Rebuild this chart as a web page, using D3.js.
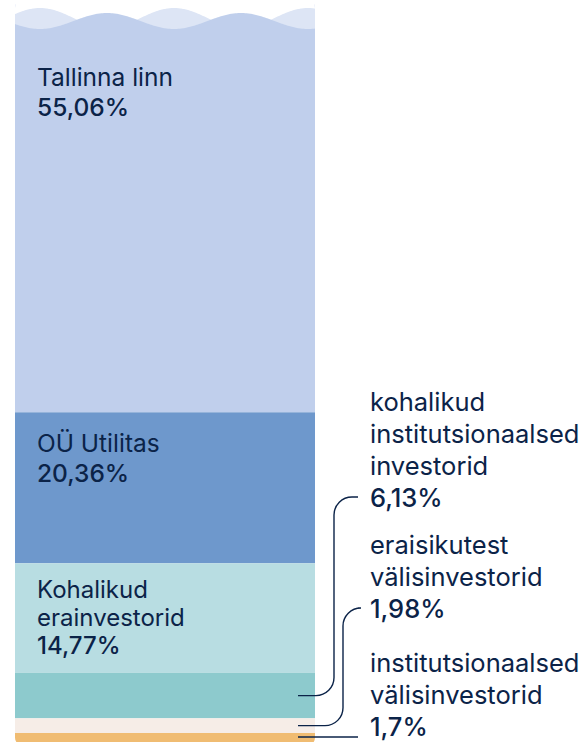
<!DOCTYPE html>
<html>
<head>
<meta charset="utf-8">
<script src="https://cdn.jsdelivr.net/npm/d3@7"></script>
<style>
  html, body { margin: 0; padding: 0; background: #fff; }
  svg { display: block; font-family: Inter, "Noto Sans", sans-serif; }
</style>
</head>
<body>
<div class="chart"></div>
<script>
// shareholders, top to bottom
const categories = ["Tallinna linn", "OÜ Utilitas", "Kohalikud erainvestorid",
  "kohalikud institutsionaalsed investorid", "eraisikutest välisinvestorid",
  "institutsionaalsed välisinvestorid"];
const shares = [55.06, 20.36, 14.77, 6.13, 1.98, 1.7];
const shareLabels = ["55,06%", "20,36%", "14,77%", "6,13%", "1,98%", "1,7%"];
const labelLines = [["Tallinna linn"], ["OÜ Utilitas"], ["Kohalikud", "erainvestorid"],
  ["kohalikud", "institutsionaalsed", "investorid"], ["eraisikutest", "välisinvestorid"],
  ["institutsionaalsed", "välisinvestorid"]];
const colors = ["#c0cfec", "#6e98cc", "#b8dde2", "#8dcacd", "#f6ede7", "#f0bc72"];

let width = 587, height = 742;
let ink = "#0b2348";

let svg = d3.select(".chart")
  .append("svg")
  .attr("width", width)
  .attr("height", height);

// stacked from top
let stacked = [];
let acc = 0;
shares.forEach((v, i) => {
  stacked.push({ i, name: categories[i], v, y0: acc, y1: acc + v });
  acc += v;
});

let x0 = 15, x1 = 315;
let y = d3.scaleLinear().domain([0, 100]).range([4, 745.6]);

svg.append("clipPath").attr("id", "barclip")
  .append("rect")
  .attr("x", x0).attr("y", 0)
  .attr("width", x1 - x0).attr("height", y(100))
  .attr("rx", 8);

let bar = svg.append("g").attr("clip-path", "url(#barclip)");

bar.selectAll(".seg")
  .data(stacked)
  .enter().append("rect")
  .attr("class", "seg")
  .attr("x", x0)
  .attr("width", x1 - x0)
  .attr("y", d => y(d.y0))
  .attr("height", d => y(d.y1) - y(d.y0))
  .attr("fill", d => colors[d.i]);

// wavy top edge (two layers)
let waveBottom = 34;
let xs = d3.range(x0, x1 + 1, 1);
let period = 134;
let lightWave = x => 18 - 10 * Math.cos(2 * Math.PI * (x - 40) / period);
let darkWave = x => 21 - 8 * Math.cos(2 * Math.PI * (x - 107) / period);

bar.append("rect")
  .attr("x", x0).attr("y", 0)
  .attr("width", x1 - x0).attr("height", waveBottom)
  .attr("fill", "#fff");

bar.append("path")
  .datum(xs)
  .attr("fill", "#dde5f5")
  .attr("d", d3.area().x(d => d).y0(waveBottom).y1(d => lightWave(d)));

bar.append("path")
  .datum(xs)
  .attr("fill", colors[0])
  .attr("d", d3.area().x(d => d).y0(waveBottom + 1).y1(d => darkWave(d)));

// labels inside the bar
let inside = [
  { i: 0, top: 86, size: 24.5, lh: 30 },
  { i: 1, top: 452, size: 24.5, lh: 30 },
  { i: 2, top: 598, size: 24, lh: 28 }
];

inside.forEach(l => {
  let t = svg.append("text")
    .attr("x", 37)
    .attr("fill", ink)
    .style("font-size", l.size + "px");
  labelLines[l.i].forEach((line, k) => {
    t.append("tspan").attr("x", 37).attr("y", l.top + k * l.lh).text(line);
  });
  t.append("tspan")
    .attr("x", 37)
    .attr("y", l.top + labelLines[l.i].length * l.lh)
    .style("font-weight", 500)
    .text(shareLabels[l.i]);
});

// labels to the right, with connectors
let outside = [
  { i: 3, pct: 507, xv: 334 },
  { i: 4, pct: 618, xv: 343 },
  { i: 5, pct: 736, xv: null }
];
let rlh = 32, rx = 370;

outside.forEach(l => {
  let lines = labelLines[l.i];
  let t = svg.append("text")
    .attr("fill", ink)
    .style("font-size", "25.5px");
  lines.forEach((line, k) => {
    t.append("tspan").attr("x", rx)
      .attr("y", l.pct - (lines.length - k) * rlh)
      .text(line);
  });
  t.append("tspan").attr("x", rx).attr("y", l.pct)
    .style("font-weight", 500)
    .text(shareLabels[l.i]);

  let d = stacked[l.i];
  let yMid = l.xv ? (y(d.y0) + y(d.y1)) / 2 : 737;
  let yTop = l.pct - 10;
  let p = d3.path();
  let r = 18;
  p.moveTo(298, yMid);
  if (l.xv) {
    p.lineTo(l.xv - r, yMid);
    p.arcTo(l.xv, yMid, l.xv, yMid - r, r);
    p.lineTo(l.xv, yTop + r);
    p.arcTo(l.xv, yTop, l.xv + r, yTop, r);
    p.lineTo(358, yTop);
  } else {
    p.lineTo(358, yMid);
  }
  svg.append("path")
    .attr("d", p.toString())
    .attr("fill", "none")
    .attr("stroke", ink)
    .attr("stroke-width", 1.4);
});
</script>
</body>
</html>
